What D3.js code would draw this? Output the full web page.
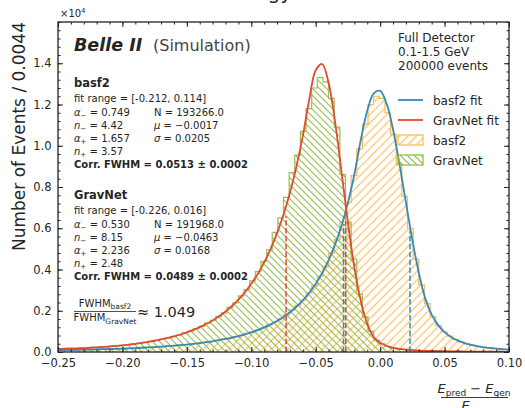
<!DOCTYPE html>
<html lang="en">
<head>
<meta charset="UTF-8">
<title>Energy resolution</title>
<script src="https://cdn.jsdelivr.net/npm/d3@7"></script>
<style>
  body { margin: 0; background: #fff; }
  svg text { font-family: "DejaVu Sans", sans-serif; fill: #262626; }
</style>
</head>
<body>
<svg id="chart" width="525" height="408"></svg>
<script>
// histograms: 80 bins over [-0.25, 0.10]
const binStart = -0.25;
const binWidth = 0.004375;
const basf2Hist = [
  90, 90, 100, 100, 110, 110, 120, 130, 140, 140,
  160, 160, 180, 190, 200, 220, 230, 250, 260, 290,
  300, 330, 360, 380, 420, 450, 490, 530, 570, 630,
  680, 750, 810, 900, 980, 1080, 1180, 1320, 1460, 1620,
  1820, 2040, 2260, 2520, 2860, 3220, 3660, 4150, 4780, 5450,
  6300, 7250, 8550, 9850, 11050, 12000, 12400, 12300, 11600, 10550,
  9100, 7550, 6000, 4500, 3250, 2350, 1720, 1280, 980, 770,
  610, 490, 400, 330, 280, 230, 200, 170, 150, 130
];
const gravnetHist = [
  130, 150, 150, 170, 180, 190, 220, 230, 250, 280,
  300, 320, 360, 390, 420, 470, 520, 560, 630, 680,
  760, 820, 930, 1010, 1130, 1240, 1400, 1530, 1730, 1900,
  2160, 2380, 2720, 3020, 3450, 3900, 4400, 4950, 5800, 6500,
  7500, 8700, 9550, 10700, 11800, 12800, 13300, 13100, 12300, 10900,
  8600, 6300, 4500, 2800, 1700, 1000, 580, 400, 280, 200,
  150, 120, 100, 80, 70, 60, 50, 40, 40, 30,
  30, 30, 20, 20, 20, 20, 20, 10, 10, 10
];

// fit curves read every 0.005 from -0.25 to 0.10
const fitStart = -0.25;
const fitStep = 0.005;
const basf2Fit = [
  95, 100, 105, 110, 116, 122, 129, 137, 146, 155,
  163, 176, 190, 205, 221, 239, 259, 281, 305, 332,
  362, 395, 433, 474, 520, 573, 631, 697, 773, 857,
  955, 1065, 1193, 1338, 1505, 1701, 1928, 2193, 2505, 2872,
  3310, 3829, 4454, 5208, 6124, 7240, 8620, 10290, 11700, 12540,
  12660, 12040, 10790, 9110, 7250, 5440, 3840, 2600, 1810, 1303,
  964, 731, 565, 444, 355, 287, 236, 195, 163, 137, 116
];
const gravnetFit = [
  150, 160, 170, 180, 190, 210, 225, 245, 270, 295,
  324, 358, 397, 441, 490, 545, 608, 679, 758, 849,
  952, 1069, 1204, 1357, 1530, 1731, 1964, 2231, 2539, 2892,
  3305, 3784, 4343, 4997, 5762, 6664, 7725, 8985, 10475, 12240,
  13660, 13960, 13050, 11170, 8740, 6270, 4110, 2470, 1355, 731,
  443, 292, 205, 150, 114, 89, 71, 58, 48, 40,
  34, 29, 25, 22, 19, 17, 15, 13, 12, 11, 10
];

// FWHM markers
const basf2Fwhm = [-0.0284, 0.0232];
const basf2FwhmTop = [6200, 5900];
const gravnetFwhm = [-0.073, -0.0267];
const gravnetFwhmTop = [6600, 6300];

const xTicks = [-0.25, -0.20, -0.15, -0.10, -0.05, 0.00, 0.05, 0.10];
const xMinor = d3.range(-0.25, 0.1001, 0.01);
const yTicks = [0, 2000, 4000, 6000, 8000, 10000, 12000, 14000];
const yMinor = d3.range(0, 16001, 400);

const legendItems = ["basf2 fit", "GravNet fit", "basf2", "GravNet"];

const colors = {
  blue: "#348ABD",
  red: "#E24A33",
  orange: "#FBB954",
  green: "#8EBA42"
};

const margin = { left: 58, right: 509, top: 22, bottom: 352 };

const svg = d3.select("#chart");
const x = d3.scaleLinear().domain([-0.25, 0.10]).range([margin.left, margin.right]);
const y = d3.scaleLinear().domain([0, 16000]).range([margin.bottom, margin.top]);

const defs = svg.append("defs");
defs.append("clipPath").attr("id", "plot-clip")
  .append("rect")
  .attr("x", margin.left).attr("y", margin.top)
  .attr("width", margin.right - margin.left)
  .attr("height", margin.bottom - margin.top);

function hatch(id, color, s, forward) {
  const p = defs.append("pattern")
    .attr("id", id)
    .attr("patternUnits", "userSpaceOnUse")
    .attr("width", s).attr("height", s);
  const d = forward
    ? `M0,${s} L${s},0 M-1,1 L1,-1 M${s - 1},${s + 1} L${s + 1},${s - 1}`
    : `M0,0 L${s},${s} M-1,${s - 1} L1,${s + 1} M${s - 1},-1 L${s + 1},1`;
  p.append("path").attr("d", d)
    .attr("stroke", color).attr("stroke-width", 1.15).attr("fill", "none");
}
hatch("hatch-basf2", colors.orange, 8.5, true);
hatch("hatch-gravnet", colors.green, 7, false);

// title sits above the figure, only its descenders show
svg.append("text").attr("x", 292).attr("y", -1).attr("text-anchor", "end")
  .style("font-size", "20px").text("Energy");

const plot = svg.append("g").attr("clip-path", "url(#plot-clip)");

function stepPoints(hist) {
  const pts = [[binStart, 0]];
  hist.forEach((v, i) => {
    const x0 = binStart + i * binWidth;
    pts.push([x0, v], [x0 + binWidth, v]);
  });
  pts.push([binStart + hist.length * binWidth, 0]);
  return pts;
}
const stepLine = d3.line().x(d => x(d[0])).y(d => y(d[1]));

plot.append("path")
  .attr("d", stepLine(stepPoints(basf2Hist)))
  .attr("fill", "url(#hatch-basf2)")
  .attr("stroke", colors.orange)
  .attr("stroke-width", 1.2);

plot.append("path")
  .attr("d", stepLine(stepPoints(gravnetHist)))
  .attr("fill", "url(#hatch-gravnet)")
  .attr("stroke", colors.green)
  .attr("stroke-width", 1.2)
  .attr("opacity", 0.9);

const fitLine = d3.line()
  .x((d, i) => x(fitStart + i * fitStep))
  .y(d => y(d))
  .curve(d3.curveCatmullRom);

plot.append("path").attr("d", fitLine(basf2Fit))
  .attr("fill", "none").attr("stroke", colors.blue).attr("stroke-width", 1.8);
plot.append("path").attr("d", fitLine(gravnetFit))
  .attr("fill", "none").attr("stroke", colors.red).attr("stroke-width", 1.8);

function fwhmLines(xs, tops, color) {
  xs.forEach((v, i) => {
    plot.append("line")
      .attr("x1", x(v)).attr("x2", x(v))
      .attr("y1", y(0)).attr("y2", y(tops[i]))
      .attr("stroke", color).attr("stroke-width", 1.5)
      .attr("stroke-dasharray", "5.5,2.4");
  });
}
fwhmLines(gravnetFwhm, gravnetFwhmTop, colors.red);
fwhmLines(basf2Fwhm, basf2FwhmTop, colors.blue);

// axes, ticks inward on all four sides
const fmtX = d3.format(".2f");
const fmtY = v => d3.format(".1f")(v / 1e4);

function drawAxis(axis, transform) {
  const g = svg.append("g").attr("transform", transform).call(axis);
  g.select(".domain").remove();
  g.selectAll(".tick line").attr("stroke", "#222");
  g.selectAll(".tick text")
    .style("font-family", "DejaVu Sans")
    .style("font-size", "11.5px")
    .attr("fill", "#222");
  return g;
}

drawAxis(d3.axisBottom(x).tickValues(xTicks).tickSize(-5).tickPadding(6.5).tickFormat(fmtX),
  `translate(0,${margin.bottom})`);
drawAxis(d3.axisBottom(x).tickValues(xMinor).tickSize(-2.5).tickFormat(""),
  `translate(0,${margin.bottom})`);
drawAxis(d3.axisTop(x).tickValues(xTicks).tickSize(-5).tickFormat(""),
  `translate(0,${margin.top})`);
drawAxis(d3.axisTop(x).tickValues(xMinor).tickSize(-2.5).tickFormat(""),
  `translate(0,${margin.top})`);
drawAxis(d3.axisLeft(y).tickValues(yTicks).tickSize(-5).tickPadding(6.5).tickFormat(fmtY),
  `translate(${margin.left},0)`);
drawAxis(d3.axisLeft(y).tickValues(yMinor).tickSize(-2.5).tickFormat(""),
  `translate(${margin.left},0)`);
drawAxis(d3.axisRight(y).tickValues(yTicks).tickSize(-5).tickFormat(""),
  `translate(${margin.right},0)`);
drawAxis(d3.axisRight(y).tickValues(yMinor).tickSize(-2.5).tickFormat(""),
  `translate(${margin.right},0)`);

svg.append("rect")
  .attr("x", margin.left).attr("y", margin.top)
  .attr("width", margin.right - margin.left)
  .attr("height", margin.bottom - margin.top)
  .attr("fill", "none").attr("stroke", "#222").attr("stroke-width", 1.3);

// offset text
const off = svg.append("text").attr("x", 60).attr("y", 17).style("font-size", "10px");
off.append("tspan").text("×10");
off.append("tspan").attr("dy", -4).style("font-size", "7px").text("4");

// y label (top aligned)
svg.append("text")
  .attr("transform", `translate(25,${margin.top}) rotate(-90)`)
  .attr("text-anchor", "end")
  .style("font-size", "17px")
  .text("Number of Events / 0.0044");

// x label, fraction at right end
const xl = svg.append("g").style("font-size", "13px");
const num = xl.append("text").attr("x", 474).attr("y", 393).attr("text-anchor", "middle");
num.append("tspan").style("font-style", "italic").text("E");
num.append("tspan").attr("dy", 2.5).style("font-size", "9px").text("pred");
num.append("tspan").attr("dy", -2.5).text(" − ");
num.append("tspan").style("font-style", "italic").text("E");
num.append("tspan").attr("dy", 2.5).style("font-size", "9px").text("gen");
xl.append("line").attr("x1", 441).attr("x2", 508).attr("y1", 397.5).attr("y2", 397.5)
  .attr("stroke", "#262626").attr("stroke-width", 0.9);
const den = xl.append("text").attr("x", 474).attr("y", 410).attr("text-anchor", "middle");
den.append("tspan").style("font-style", "italic").text("E");
den.append("tspan").attr("dy", 2.5).style("font-size", "9px").text("gen");

// experiment label
const bl = svg.append("text").attr("x", 74).attr("y", 51);
bl.append("tspan").style("font-size", "17.5px").style("font-weight", "bold")
  .style("font-style", "italic").text("Belle II");
bl.append("tspan").attr("x", 153).style("font-size", "16px").attr("fill", "#444").text("(Simulation)");

// fit info blocks
function subLine(g, xPos, yPos, sym, sub, rest, italic) {
  const t = g.append("text").attr("x", xPos).attr("y", yPos).style("font-size", "10px");
  t.append("tspan").style("font-style", italic ? "italic" : "normal").text(sym);
  if (sub) {
    t.append("tspan").attr("dy", 2.5).style("font-size", "7px").text(sub);
    t.append("tspan").attr("dy", -2.5).text(rest);
  } else {
    t.append("tspan").text(rest);
  }
}

function fitBlock(top, name, range, p) {
  const g = svg.append("g");
  g.append("text").attr("x", 74).attr("y", top).style("font-size", "11.5px")
    .style("font-weight", "bold").text(name);
  g.append("text").attr("x", 74).attr("y", top + 15).style("font-size", "10px")
    .text(`fit range = ${range}`);
  subLine(g, 74, top + 28.5, "α", "−", ` = ${p.aL}`, true);
  subLine(g, 74, top + 41.5, "n", "−", ` = ${p.nL}`, true);
  subLine(g, 74, top + 54.5, "α", "+", ` = ${p.aR}`, true);
  subLine(g, 74, top + 67.5, "n", "+", ` = ${p.nR}`, true);
  subLine(g, 154, top + 28.5, "N", null, ` = ${p.N}`, false);
  subLine(g, 154, top + 41.5, "μ", null, ` = ${p.mu}`, true);
  subLine(g, 154, top + 54.5, "σ", null, ` = ${p.sigma}`, true);
  g.append("text").attr("x", 74).attr("y", top + 81).style("font-size", "10px")
    .style("font-weight", "bold").text(`Corr. FWHM = ${p.fwhm} ± 0.0002`);
}

fitBlock(87, "basf2", "[-0.212, 0.114]",
  { aL: "0.749", nL: "4.42", aR: "1.657", nR: "3.57", N: "193266.0", mu: "−0.0017", sigma: "0.0205", fwhm: "0.0513" });
fitBlock(199, "GravNet", "[-0.226, 0.016]",
  { aL: "0.530", nL: "8.15", aR: "2.236", nR: "2.48", N: "191968.0", mu: "−0.0463", sigma: "0.0168", fwhm: "0.0489" });

// ratio
const rn = svg.append("text").attr("x", 105).attr("y", 306.5).attr("text-anchor", "middle").style("font-size", "10px");
rn.append("tspan").text("FWHM");
rn.append("tspan").attr("dy", 2.5).style("font-size", "7.5px").text("basf2");
svg.append("line").attr("x1", 74).attr("x2", 136).attr("y1", 311.5).attr("y2", 311.5)
  .attr("stroke", "#262626").attr("stroke-width", 0.8);
const rd = svg.append("text").attr("x", 105).attr("y", 321).attr("text-anchor", "middle").style("font-size", "10px");
rd.append("tspan").text("FWHM");
rd.append("tspan").attr("dy", 2.5).style("font-size", "7.5px").text("GravNet");
svg.append("text").attr("x", 137).attr("y", 317).style("font-size", "14.5px").text("≈ 1.049");

// info on the right
["Full Detector", "0.1-1.5 GeV", "200000 events"].forEach((s, i) => {
  svg.append("text").attr("x", 398).attr("y", 42 + i * 13.8).style("font-size", "12px").text(s);
});

// legend
const leg = svg.append("g");
legendItems.forEach((label, i) => {
  const ly = 100 + i * 20;
  if (i < 2) {
    leg.append("line").attr("x1", 398).attr("x2", 423).attr("y1", ly).attr("y2", ly)
      .attr("stroke", i === 0 ? colors.blue : colors.red).attr("stroke-width", 1.8);
  } else {
    leg.append("rect").attr("x", 398).attr("y", ly - 5).attr("width", 25).attr("height", 10)
      .attr("fill", i === 2 ? "url(#hatch-basf2)" : "url(#hatch-gravnet)")
      .attr("stroke", i === 2 ? colors.orange : colors.green).attr("stroke-width", 1.2);
  }
  leg.append("text").attr("x", 433).attr("y", ly + 4.5).style("font-size", "12px").text(label);
});
</script>
</body>
</html>
